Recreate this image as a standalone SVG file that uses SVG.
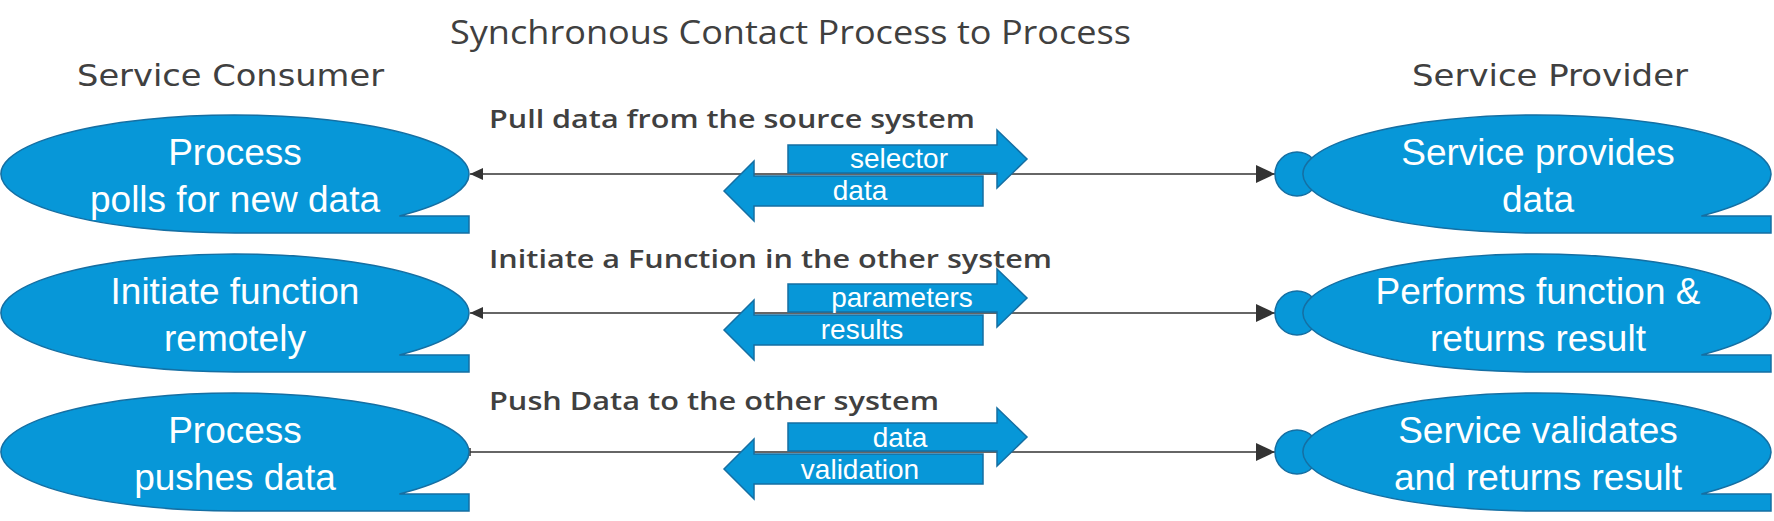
<svg xmlns="http://www.w3.org/2000/svg" xmlns:xlink="http://www.w3.org/1999/xlink" width="1774" height="521" viewBox="0 0 1774 521">
<style>
.shape{fill:#0797d8;stroke:#156fa3;stroke-width:1.5}
.ntext{font-family:"Liberation Sans",Arial,sans-serif;font-size:37px;fill:#ffffff;text-anchor:middle}
.atext{font-family:"Liberation Sans",Arial,sans-serif;font-size:28px;fill:#ffffff;text-anchor:middle}
.head{font-family:"DejaVu Sans",Verdana,sans-serif;font-size:30px;fill:#404040}
.title{font-family:"Open Sans",sans-serif;font-size:32px;fill:#404040}
.lbl{font-family:"Open Sans",sans-serif;font-weight:600;font-size:25px;fill:#404040}
.conn{stroke:#333333;stroke-width:1.5;fill:none}
</style>
<defs>
<path id="tape" d="M0,59 A234,59 0 1 1 164.3,42 H234 V59 Z"/>
<path id="barR" d="M788,145 H997 V130 L1027,159 L997,188 V173 H788 Z"/>
<path id="barL" d="M983,176 H754 V161 L724,191 L754,221 V206 H983 Z"/>
<marker id="arrS" markerUnits="userSpaceOnUse" markerWidth="14" markerHeight="12" refX="13" refY="6" orient="auto-start-reverse">
<path d="M0,0 L13,6 L0,12 Z" fill="#333333"/>
</marker>
<marker id="arrE" markerUnits="userSpaceOnUse" markerWidth="20" markerHeight="18" refX="19" refY="9" orient="auto">
<path d="M0,0 L19,9 L0,18 Z" fill="#333333"/>
</marker>
</defs>

<text class="title" x="450" y="44" textLength="681" lengthAdjust="spacingAndGlyphs">Synchronous Contact Process to Process</text>
<text class="head" x="77" y="86" textLength="307" lengthAdjust="spacingAndGlyphs">Service Consumer</text>
<text class="head" x="1412" y="86" textLength="276" lengthAdjust="spacingAndGlyphs">Service Provider</text>
<text class="lbl" x="489" y="128" textLength="486" lengthAdjust="spacingAndGlyphs">Pull data from the source system</text>
<text class="lbl" x="489" y="268" textLength="563" lengthAdjust="spacingAndGlyphs">Initiate a Function in the other system</text>
<text class="lbl" x="489" y="410" textLength="450" lengthAdjust="spacingAndGlyphs">Push Data to the other system</text>

<g id="connectors">
<path class="conn" d="M470,174 H1275" marker-start="url(#arrS)" marker-end="url(#arrE)"/>
<path class="conn" d="M470,313 H1275" marker-start="url(#arrS)" marker-end="url(#arrE)"/>
<path class="conn" d="M470,452 H1275" marker-end="url(#arrE)"/>
<path class="conn" d="M470,448 V456"/>
</g>

<g id="flow-pull">
<use xlink:href="#barR" class="shape"/>
<use xlink:href="#barL" class="shape"/>
<text class="atext" x="899" y="168">selector</text>
<text class="atext" x="860" y="200">data</text>
</g>
<g id="flow-function" transform="translate(0,139)">
<use xlink:href="#barR" class="shape"/>
<use xlink:href="#barL" class="shape"/>
<text class="atext" x="902" y="168">parameters</text>
<text class="atext" x="862" y="200">results</text>
</g>
<g id="flow-push" transform="translate(0,278)">
<use xlink:href="#barR" class="shape"/>
<use xlink:href="#barL" class="shape"/>
<text class="atext" x="900" y="169">data</text>
<text class="atext" x="860" y="201">validation</text>
</g>

<g id="consumer-poll">
<use xlink:href="#tape" class="shape" x="235" y="174"/>
<text class="ntext" x="235" y="165">Process</text>
<text class="ntext" x="235" y="212">polls for new data</text>
</g>
<g id="consumer-function">
<use xlink:href="#tape" class="shape" x="235" y="313"/>
<text class="ntext" x="235" y="304">Initiate function</text>
<text class="ntext" x="235" y="351">remotely</text>
</g>
<g id="consumer-push">
<use xlink:href="#tape" class="shape" x="235" y="452"/>
<text class="ntext" x="235" y="443">Process</text>
<text class="ntext" x="235" y="490">pushes data</text>
</g>

<g id="provider-data">
<circle class="shape" cx="1297" cy="174" r="22"/>
<use xlink:href="#tape" class="shape" x="1537" y="174"/>
<text class="ntext" x="1538" y="165">Service provides</text>
<text class="ntext" x="1538" y="212">data</text>
</g>
<g id="provider-function">
<circle class="shape" cx="1297" cy="313" r="22"/>
<use xlink:href="#tape" class="shape" x="1537" y="313"/>
<text class="ntext" x="1538" y="304">Performs function &amp;</text>
<text class="ntext" x="1538" y="351">returns result</text>
</g>
<g id="provider-validate">
<circle class="shape" cx="1297" cy="452" r="22"/>
<use xlink:href="#tape" class="shape" x="1537" y="452"/>
<text class="ntext" x="1538" y="443">Service validates</text>
<text class="ntext" x="1538" y="490">and returns result</text>
</g>
</svg>
